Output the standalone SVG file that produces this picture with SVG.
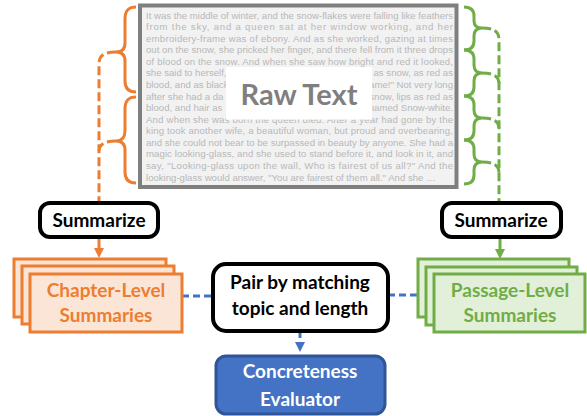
<svg xmlns="http://www.w3.org/2000/svg" width="587" height="416" viewBox="0 0 587 416">
<style>
.para{font-family:"Liberation Sans",Arial,sans-serif;font-size:9.6px;fill:#b8b8b8}
.end{text-anchor:end}
.lbl{font-family:Lato,"Open Sans",sans-serif;font-weight:bold;text-anchor:middle}
.brO{fill:none;stroke:#ed7d31;stroke-width:3}
.brG{fill:none;stroke:#70ad47;stroke-width:3}
.dO{fill:none;stroke:#ed7d31;stroke-width:3;stroke-dasharray:9 4}
.dG{fill:none;stroke:#70ad47;stroke-width:3;stroke-dasharray:9 4}
.dB{fill:none;stroke:#4472c4;stroke-width:3;stroke-dasharray:7 4}
.box{fill:#fff;stroke:#000;stroke-width:4}
.ch{fill:#fbe5d6;stroke:#ed7d31;stroke-width:3}
.pg{fill:#e2f0d9;stroke:#70ad47;stroke-width:3}
</style>
<defs>
<marker id="aO" viewBox="0 0 10 10" refX="2" refY="5" markerWidth="10" markerHeight="10" markerUnits="userSpaceOnUse" orient="auto"><path d="M0,0 L10,5 L0,10 z" fill="#ed7d31"/></marker>
<marker id="aG" viewBox="0 0 10 10" refX="2" refY="5" markerWidth="10" markerHeight="10" markerUnits="userSpaceOnUse" orient="auto"><path d="M0,0 L10,5 L0,10 z" fill="#70ad47"/></marker>
<marker id="aB" viewBox="0 0 10 10" refX="2" refY="5" markerWidth="10" markerHeight="10" markerUnits="userSpaceOnUse" orient="auto"><path d="M0,0 L10,5 L0,10 z" fill="#4472c4"/></marker>
</defs>

<g id="raw-text">
<rect x="140" y="5.5" width="316.5" height="181.5" fill="#f2f2f2" stroke="#7f7f7f" stroke-width="4"/>
<text class="para" x="146" y="18.5" textLength="307" lengthAdjust="spacing">It was the middle of winter, and the snow-flakes were falling like feathers</text>
<text class="para" x="146" y="30.1" textLength="307" lengthAdjust="spacing">from the sky, and a queen sat at her window working, and her</text>
<text class="para" x="146" y="41.6" textLength="307" lengthAdjust="spacing">embroidery-frame was of ebony. And as she worked, gazing at times</text>
<text class="para" x="146" y="53.2" textLength="307" lengthAdjust="spacing">out on the snow, she pricked her finger, and there fell from it three drops</text>
<text class="para" x="146" y="64.8" textLength="307" lengthAdjust="spacing">of blood on the snow. And when she saw how bright and red it looked,</text>
<text class="para" x="146" y="76.3">she said to herself,</text>
<text class="para end" x="453" y="76.3">as snow, as red as</text>
<text class="para" x="146" y="87.9">blood, and as black</text>
<text class="para end" x="453" y="87.9">frame!" Not very long</text>
<text class="para" x="146" y="99.5">after she had a da</text>
<text class="para end" x="453" y="99.5">snow, lips as red as</text>
<text class="para" x="146" y="111.1">blood, and hair as</text>
<text class="para end" x="453" y="111.1">named Snow-white.</text>
<text class="para" x="146" y="122.6" textLength="307" lengthAdjust="spacing">And when she was born the queen died. After a year had gone by the</text>
<text class="para" x="146" y="134.2" textLength="307" lengthAdjust="spacing">king took another wife, a beautiful woman, but proud and overbearing,</text>
<text class="para" x="146" y="145.8" textLength="307" lengthAdjust="spacing">and she could not bear to be surpassed in beauty by anyone. She had a</text>
<text class="para" x="146" y="157.3" textLength="307" lengthAdjust="spacing">magic looking-glass, and she used to stand before it, and look in it, and</text>
<text class="para" x="146" y="168.9" textLength="307" lengthAdjust="spacing">say, "Looking-glass upon the wall, Who is fairest of us all?" And the</text>
<text class="para" x="146" y="180.5">looking-glass would answer, "You are fairest of them all." And she …</text>
<rect x="226" y="67" width="146" height="52.5" fill="#fff"/>
<text class="lbl" x="299" y="105" font-size="29" fill="#7f7f7f">Raw Text</text>
</g>

<g id="chapter-braces">
<path class="brO" d="M136,7 C128,7 125,11 125,19 L125,43 C125,49 122,52 116,52 C122,52 125,55 125,61 L125,81 C125,88 128,92 136,92"/>
<path class="brO" d="M136,97 C128,97 125,101 125,109 L125,131 C125,137 122,141 116,141 C122,141 125,144 125,150 L125,172 C125,179 128,183 136,183"/>
</g>

<g id="passage-braces">
<path class="brG" d="M464,7 C472,7 474,11 474,16 L474,21 C474,25 476,28 482,28 C476,28 474,31 474,36 L474,41 C474,46 472,50 464,50"/>
<path class="brG" d="M464,50 C472,50 474,54 474,59 L474,65 C474,70 476,73 482,73 C476,73 474,76 474,81 L474,87 C474,92 472,96 464,96"/>
<path class="brG" d="M464,96 C472,96 474,100 474,105 L474,110 C474,115 476,118 482,118 C476,118 474,121 474,126 L474,131 C474,136 472,140 464,140"/>
<path class="brG" d="M464,140 C472,140 474,144 474,149 L474,154 C474,159 476,162 482,162 C476,162 474,165 474,170 L474,175 C474,180 472,184 464,184"/>
</g>

<g id="connectors">
<path class="dO" d="M116,52 C105,52 99,55 99,64 L99,203"/>
<path class="dO" d="M116,141 C105,141 99,144 99,152"/>
<path d="M99,237 L99,250" stroke="#ed7d31" stroke-width="3" marker-end="url(#aO)"/>
<path class="dG" d="M482,28 C493,28 499,31 499,40 L499,203"/>
<path class="dG" d="M482,73 C493,73 499,76 499,84"/>
<path class="dG" d="M482,118 C493,118 499,121 499,129"/>
<path class="dG" d="M482,162 C493,162 499,165 499,173"/>
<path d="M500,237 L500,251" stroke="#70ad47" stroke-width="3" marker-end="url(#aG)"/>
<path class="dB" d="M182,296 L213,296"/>
<path class="dB" d="M388,295 L418,295"/>
<path class="dB" d="M300,331 L300,344" marker-end="url(#aB)"/>
</g>

<g id="summarize-left">
<rect class="box" x="40" y="203" width="118" height="34" rx="10"/>
<text class="lbl" x="99" y="227" font-size="19" fill="#000">Summarize</text>
</g>

<g id="summarize-right">
<rect class="box" x="442" y="203" width="119" height="34" rx="10"/>
<text class="lbl" x="501" y="227" font-size="19" fill="#000">Summarize</text>
</g>

<g id="chapter-summaries">
<rect class="ch" x="14" y="259" width="152" height="58"/>
<rect class="ch" x="22" y="266" width="152" height="58"/>
<rect class="ch" x="30" y="274" width="152" height="58"/>
<text class="lbl" x="106" y="297" font-size="19" fill="#ed7d31">Chapter-Level</text>
<text class="lbl" x="106" y="322" font-size="19" fill="#ed7d31">Summaries</text>
</g>

<g id="passage-summaries">
<rect class="pg" x="418" y="259" width="151" height="58"/>
<rect class="pg" x="426" y="267" width="151" height="58"/>
<rect class="pg" x="434" y="274" width="151" height="58"/>
<text class="lbl" x="510" y="297" font-size="19" fill="#70ad47">Passage-Level</text>
<text class="lbl" x="510" y="322" font-size="19" fill="#70ad47">Summaries</text>
</g>

<g id="pair">
<rect class="box" x="213" y="264" width="175" height="67" rx="13"/>
<text class="lbl" x="300" y="289" font-size="19" fill="#000">Pair by matching</text>
<text class="lbl" x="300" y="315" font-size="19" fill="#000">topic and length</text>
</g>

<g id="evaluator">
<rect x="216" y="356" width="169" height="58" rx="10" fill="#4472c4" stroke="#2f5597" stroke-width="3"/>
<text class="lbl" x="300" y="378" font-size="19" fill="#fff">Concreteness</text>
<text class="lbl" x="300" y="406" font-size="19" fill="#fff">Evaluator</text>
</g>
</svg>
